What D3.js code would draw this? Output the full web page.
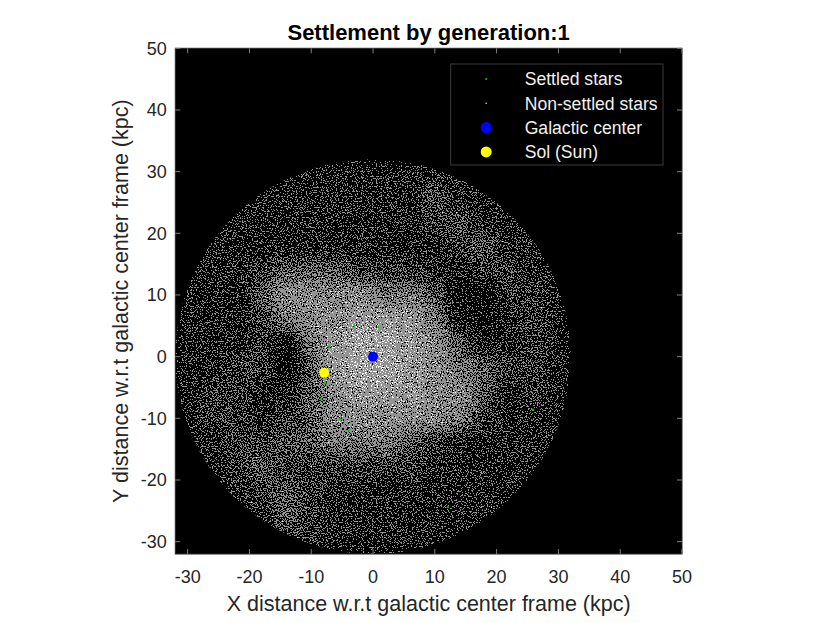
<!DOCTYPE html>
<html>
<head>
<meta charset="utf-8">
<script src="https://cdn.jsdelivr.net/npm/d3@7"></script>
<style>
    body { margin: 0; background: #ffffff; }
    svg { display: block; font-family: "Liberation Sans", Arial, Helvetica, sans-serif; }
</style>
</head>
<body>
<svg id="chart" width="830" height="623"></svg>
<script>

// Axis limits and ticks (kpc)
const xLimits = [-32, 50];
const yLimits = [-32, 50];
const xTicks = [-30, -20, -10, 0, 10, 20, 30, 40, 50];
const yTicks = [-30, -20, -10, 0, 10, 20, 30, 40, 50];

// Disc of non-settled stars: radius and star density
// (one row per 4 kpc band, top row y = 28..32, first column x = -32..-28, 0 = empty, 9 = densest)
const discRadius = 32;
const densityCell = 4;
const densityRows = [
    "3333333333333333",
    "3333333333533333",
    "3333333333453333",
    "3333333333345333",
    "3334555444334433",
    "3335777766522443",
    "3334677888632343",
    "3334268998753343",
    "3344258998765443",
    "3443357888775343",
    "3443457777764333",
    "3344556665433333",
    "3345444444333333",
    "3334543333333333",
    "3333543333333333",
    "3333443333333333"
];

// Settled stars (generation 1)
const settledX = [-3.0, 0.9, -7.1, -7.7, -8.4, -5.3, -3.9, 25.9, 12.1];
const settledY = [5.0, 4.8, 1.6, -4.3, -6.9, -10.1, -12.0, -8.6, -24.4];

// Reference points
const galacticCenter = [0, 0];
const sol = [-7.9, -2.6];

// Legend entries
const legendLabels = ["Settled stars", "Non-settled stars", "Galactic center", "Sol (Sun)"];
const legendColors = ["#00c800", "#d0d0d0", "#0000ff", "#ffff00"];
const legendSizes = [1.1, 0.8, 5.5, 5.5];

// Plot box in pixels
const plotLeft = 175.3, plotRight = 682, plotTop = 48.3, plotBottom = 554;

const svg = d3.select("#chart");

const x = d3.scaleLinear().domain(xLimits).range([plotLeft, plotRight]);
const y = d3.scaleLinear().domain(yLimits).range([plotBottom, plotTop]);

// Speckle filter: blurred density compared against fine noise -> black / grey / white dots
const defs = svg.append("defs");

const filter = defs.append("filter")
    .attr("id", "speckle")
    .attr("filterUnits", "userSpaceOnUse")
    .attr("x", plotLeft - 40)
    .attr("y", plotTop - 40)
    .attr("width", plotRight - plotLeft + 80)
    .attr("height", plotBottom - plotTop + 80)
    .attr("color-interpolation-filters", "sRGB");

filter.append("feGaussianBlur")
    .attr("in", "SourceGraphic")
    .attr("stdDeviation", 7)
    .attr("result", "dens");

filter.append("feTurbulence")
    .attr("type", "fractalNoise")
    .attr("baseFrequency", 0.8)
    .attr("numOctaves", 1)
    .attr("seed", 7)
    .attr("result", "noiseRaw");

filter.append("feColorMatrix")
    .attr("in", "noiseRaw")
    .attr("type", "matrix")
    .attr("values", "-1 0 0 0 1  -1 0 0 0 1  -1 0 0 0 1  0 0 0 0 1")
    .attr("result", "noise");

filter.append("feComposite")
    .attr("in", "dens")
    .attr("in2", "noise")
    .attr("operator", "arithmetic")
    .attr("k1", 0)
    .attr("k2", 0.78)
    .attr("k3", 2)
    .attr("k4", -1.18)
    .attr("result", "mix");

let transfer = filter.append("feComponentTransfer").attr("in", "mix");
for (let channel of ["feFuncR", "feFuncG", "feFuncB"]) {
    transfer.append(channel).attr("type", "discrete").attr("tableValues", "0 0.58 0.58 1");
}
transfer.append("feFuncA").attr("type", "linear").attr("slope", 0).attr("intercept", 1);

// Clip for the star disc
defs.append("clipPath")
    .attr("id", "disc")
    .append("ellipse")
    .attr("cx", x(0))
    .attr("cy", y(0))
    .attr("rx", x(discRadius) - x(0))
    .attr("ry", y(0) - y(discRadius));

// Black axes background
svg.append("rect")
    .attr("x", plotLeft)
    .attr("y", plotTop)
    .attr("width", plotRight - plotLeft)
    .attr("height", plotBottom - plotTop)
    .attr("fill", "#000000");

// Non-settled stars (density cells through the speckle filter)
let starG = svg.append("g")
    .attr("clip-path", "url(#disc)")
    .append("g")
    .attr("filter", "url(#speckle)");

starG.append("rect")
    .attr("x", plotLeft - 40)
    .attr("y", plotTop - 40)
    .attr("width", plotRight - plotLeft + 80)
    .attr("height", plotBottom - plotTop + 80)
    .attr("fill", "#000000");

let cells = [];
densityRows.forEach((row, r) => {
    row.split("").forEach((v, c) => {
        cells.push({ x0: -discRadius + c * densityCell, y1: discRadius - r * densityCell, v: +v });
    });
});

const grey = d3.scaleLinear().domain([0, 9]).range([0, 255]);

starG.selectAll("rect.cell")
    .data(cells)
    .join("rect")
    .attr("class", "cell")
    .attr("x", d => x(d.x0))
    .attr("y", d => y(d.y1))
    .attr("width", d => x(d.x0 + densityCell) - x(d.x0) + 0.5)
    .attr("height", d => y(d.y1 - densityCell) - y(d.y1) + 0.5)
    .attr("fill", d => { let g = Math.round(grey(d.v)); return d3.rgb(g, g, g); });

// Settled stars
svg.append("g")
    .selectAll("circle")
    .data(d3.zip(settledX, settledY))
    .join("circle")
    .attr("cx", d => x(d[0]))
    .attr("cy", d => y(d[1]))
    .attr("r", 1.2)
    .attr("fill", legendColors[0]);

// Galactic center and Sol
svg.append("circle")
    .attr("cx", x(galacticCenter[0]))
    .attr("cy", y(galacticCenter[1]))
    .attr("r", 5)
    .attr("fill", legendColors[2]);

svg.append("circle")
    .attr("cx", x(sol[0]))
    .attr("cy", y(sol[1]))
    .attr("r", 5)
    .attr("fill", legendColors[3]);

// Axes (box, inward ticks on all four sides)
const tickLen = 5;
let axisG = svg.append("g");

axisG.append("rect")
    .attr("x", plotLeft)
    .attr("y", plotTop)
    .attr("width", plotRight - plotLeft)
    .attr("height", plotBottom - plotTop)
    .attr("fill", "none")
    .attr("stroke", "#262626")
    .attr("stroke-width", 1);

for (let t of xTicks) {
    for (let [y0, dir] of [[plotBottom, -1], [plotTop, 1]]) {
        axisG.append("line")
            .attr("x1", x(t)).attr("x2", x(t))
            .attr("y1", y0).attr("y2", y0 + dir * tickLen)
            .attr("stroke", "#808080")
            .attr("stroke-width", 1);
    }
    axisG.append("text")
        .attr("x", x(t))
        .attr("y", plotBottom + 29)
        .attr("text-anchor", "middle")
        .attr("font-size", 18)
        .attr("fill", "#262626")
        .text(t);
}

for (let t of yTicks) {
    for (let [x0, dir] of [[plotLeft, 1], [plotRight, -1]]) {
        axisG.append("line")
            .attr("x1", x0).attr("x2", x0 + dir * tickLen)
            .attr("y1", y(t)).attr("y2", y(t))
            .attr("stroke", "#808080")
            .attr("stroke-width", 1);
    }
    axisG.append("text")
        .attr("x", plotLeft - 8.6)
        .attr("y", y(t))
        .attr("dy", "0.35em")
        .attr("text-anchor", "end")
        .attr("font-size", 18)
        .attr("fill", "#262626")
        .text(t);
}

// Title and axis labels
svg.append("text")
    .attr("x", (plotLeft + plotRight) / 2)
    .attr("y", 40)
    .attr("text-anchor", "middle")
    .attr("font-size", 22)
    .attr("font-weight", "bold")
    .attr("fill", "#000000")
    .text("Settlement by generation:1");

svg.append("text")
    .attr("x", (plotLeft + plotRight) / 2)
    .attr("y", 611)
    .attr("text-anchor", "middle")
    .attr("font-size", 21.5)
    .attr("fill", "#262626")
    .text("X distance w.r.t galactic center frame (kpc)");

svg.append("text")
    .attr("transform", "translate(128," + ((plotTop + plotBottom) / 2) + ") rotate(-90)")
    .attr("text-anchor", "middle")
    .attr("font-size", 21.5)
    .attr("fill", "#262626")
    .text("Y distance w.r.t galactic center frame (kpc)");

// Legend
const legendX = 450.7, legendY = 64, legendW = 212.3, legendH = 101;
let legendG = svg.append("g");

legendG.append("rect")
    .attr("x", legendX)
    .attr("y", legendY)
    .attr("width", legendW)
    .attr("height", legendH)
    .attr("fill", "#000000")
    .attr("stroke", "#3c3c3c")
    .attr("stroke-width", 1);

legendLabels.forEach((label, i) => {
    let cy = legendY + 15 + i * 24.3;
    legendG.append("circle")
        .attr("cx", legendX + 35.5)
        .attr("cy", cy)
        .attr("r", legendSizes[i])
        .attr("fill", legendColors[i]);
    legendG.append("text")
        .attr("x", legendX + 74)
        .attr("y", cy + 6.3)
        .attr("font-size", 17.6)
        .attr("fill", "#f0f0f0")
        .text(label);
});

</script>
</body>
</html>
